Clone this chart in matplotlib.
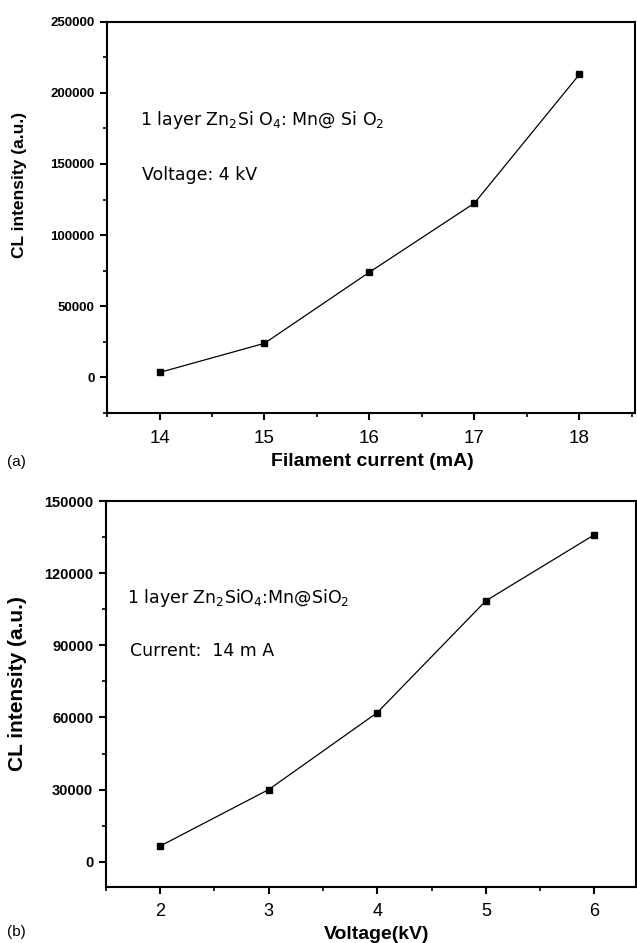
import matplotlib
matplotlib.use("Agg")
import matplotlib.pyplot as plt
from matplotlib.ticker import MultipleLocator

plt.rcParams['font.family'] = ['Liberation Sans', 'DejaVu Sans']
plt.rcParams['mathtext.default'] = 'regular'

current_mA = [14, 15, 16, 17, 18]
cl_current = [3500, 24000, 74000, 122500, 213000]

voltage_kV = [2, 3, 4, 5, 6]
cl_voltage = [6500, 30000, 62000, 108500, 136000]

top_yticks = [0, 50000, 100000, 150000, 200000, 250000]
bot_yticks = [0, 30000, 60000, 90000, 120000, 150000]

fig = plt.figure(figsize=(6.37, 9.43), dpi=100)
ax1 = fig.add_axes([0.168, 0.562, 0.829, 0.415])
ax2 = fig.add_axes([0.166, 0.0594, 0.832, 0.4093])

def style(ax, xlab_size, xpad, ylab_size):
    for s in ax.spines.values():
        s.set_linewidth(1.5)
    ax.tick_params(axis='both', which='major', direction='out', length=5, width=1.5,
                   top=False, right=False)
    ax.tick_params(axis='both', which='minor', direction='out', length=3, width=1.2,
                   top=False, right=False)
    ax.tick_params(axis='x', which='major', labelsize=xlab_size, pad=xpad)
    ax.tick_params(axis='y', which='major', labelsize=ylab_size, pad=4)
    for lab in ax.get_yticklabels():
        lab.set_fontweight('bold')

ann = dict(fontsize=12.5, ha='left', va='center', family=['DejaVu Sans'])

ax1.plot(current_mA, cl_current, color='black', lw=0.9, marker='s', ms=4.5)
ax1.set_xlim(13.5, 18.53)
ax1.set_ylim(-25000, 250000)
ax1.set_xticks(current_mA)
ax1.set_yticks(top_yticks)
ax1.xaxis.set_minor_locator(MultipleLocator(0.5))
ax1.yaxis.set_minor_locator(MultipleLocator(25000))
ax1.set_xticklabels([str(v) for v in current_mA])
ax1.set_yticklabels([str(v) for v in top_yticks])
style(ax1, 13.5, 7, 9.5)
ax1.set_xlabel('Filament current (mA)', fontsize=14, fontweight='bold')
ax1.xaxis.label.set_verticalalignment('center')
ax1.xaxis.set_label_coords(0.502, -0.125)
ax1.set_ylabel('CL intensity (a.u.)', fontsize=12.5, fontweight='bold')
ax1.yaxis.label.set_verticalalignment('center')
ax1.yaxis.set_label_coords(-0.165, 0.583)
ax1.text(0.062, 0.749, r'1 layer Zn$_2$Si O$_4$: Mn@ Si O$_2$', transform=ax1.transAxes, **ann)
ax1.text(0.066, 0.609, 'Voltage: 4 kV', transform=ax1.transAxes, **ann)

ax2.plot(voltage_kV, cl_voltage, color='black', lw=0.9, marker='s', ms=4.2)
ax2.set_xlim(1.5, 6.38)
ax2.set_ylim(-10500, 150000)
ax2.set_xticks(voltage_kV)
ax2.set_yticks(bot_yticks)
ax2.xaxis.set_minor_locator(MultipleLocator(0.5))
ax2.yaxis.set_minor_locator(MultipleLocator(15000))
ax2.set_xticklabels([str(v) for v in voltage_kV])
ax2.set_yticklabels([str(v) for v in bot_yticks])
style(ax2, 13, 6.5, 10.5)
ax2.set_xlabel('Voltage(kV)', fontsize=14, fontweight='bold')
ax2.xaxis.label.set_verticalalignment('center')
ax2.xaxis.set_label_coords(0.511, -0.122)
ax2.set_ylabel('CL intensity (a.u.)', fontsize=15, fontweight='bold')
ax2.yaxis.label.set_verticalalignment('center')
ax2.yaxis.set_label_coords(-0.166, 0.526)
ax2.text(0.04, 0.749, r'1 layer Zn$_2$SiO$_4$:Mn@SiO$_2$', transform=ax2.transAxes, **ann)
ax2.text(0.045, 0.611, 'Current:  14 m A', transform=ax2.transAxes, **ann)

fig.text(0.011, 1 - 462/943, '(a)', fontsize=11, ha='left', va='center')
fig.text(0.011, 1 - 932/943, '(b)', fontsize=11, ha='left', va='center')

fig.savefig('out.png', dpi=100)
